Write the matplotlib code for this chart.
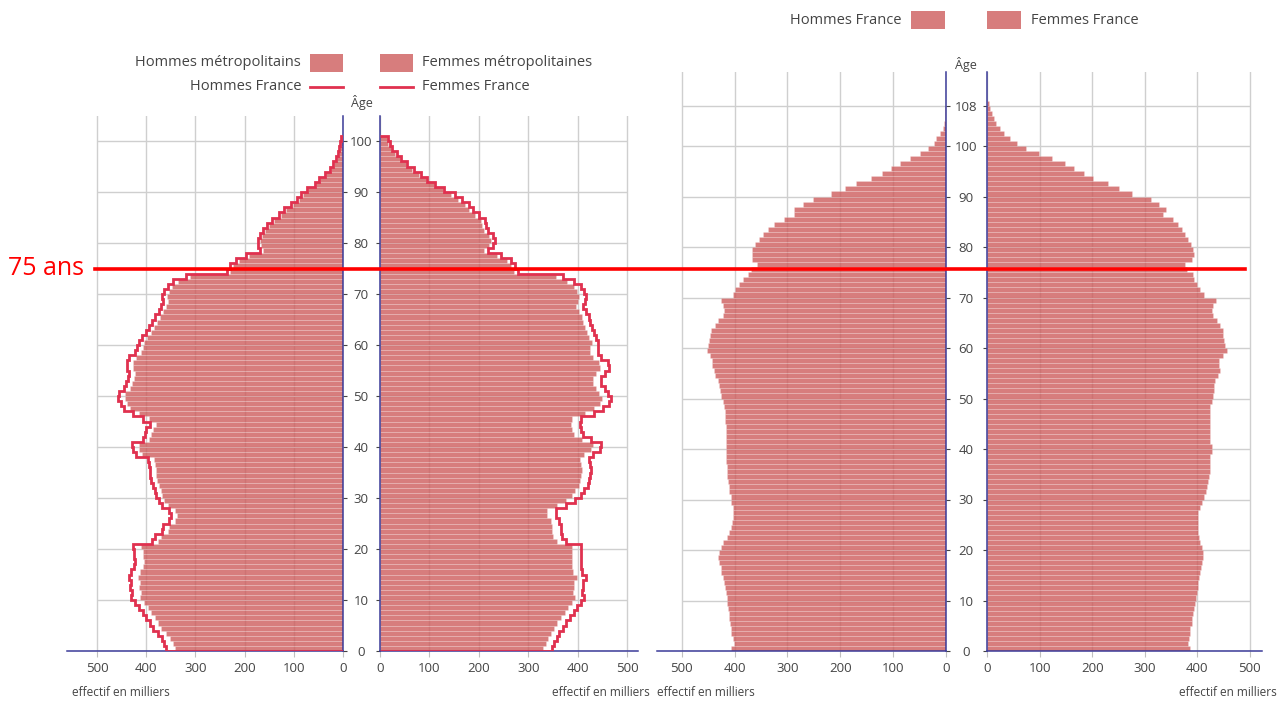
import numpy as np
import matplotlib.pyplot as plt
from matplotlib.lines import Line2D
from matplotlib.patches import Rectangle

plt.rcParams['font.family'] = ['Open Sans', 'DejaVu Sans']

# ---- data (effectifs en milliers, par âge) ----
ages_left = np.arange(0, 101)
ages_right = np.arange(0, 109)

hommes_france_g = [359, 363, 368, 377, 386, 393, 400, 407, 414, 422,
                   430, 428, 432, 430, 434, 430, 425, 422, 425, 425,
                   426, 389, 382, 368, 365, 354, 349, 354, 368, 375,
                   380, 382, 386, 390, 392, 393, 395, 397, 421, 427,
                   428, 407, 403, 400, 393, 407, 427, 446, 452, 457,
                   456, 446, 442, 437, 435, 440, 440, 434, 423, 419,
                   414, 408, 400, 394, 388, 382, 375, 370, 365, 368,
                   363, 356, 345, 319, 236, 230, 217, 198, 168, 173,
                   173, 168, 163, 154, 145, 130, 120, 106, 94, 85,
                   73, 57, 48, 37, 27, 20, 14, 11, 8, 6,
                   4]
hommes_metro = [342, 346, 351, 360, 369, 376, 383, 390, 397, 405,
                412, 410, 414, 412, 416, 412, 407, 404, 407, 407,
                410, 377, 370, 356, 353, 342, 337, 342, 356, 363,
                368, 370, 374, 378, 380, 381, 383, 385, 408, 414,
                415, 394, 390, 387, 380, 394, 414, 433, 439, 444,
                443, 433, 429, 424, 422, 427, 427, 421, 411, 407,
                404, 398, 390, 384, 378, 372, 365, 360, 355, 358,
                354, 347, 336, 310, 230, 224, 211, 192, 162, 167,
                169, 164, 159, 150, 141, 126, 116, 102, 90, 81,
                71, 55, 46, 35, 25, 18, 12, 9, 6, 4,
                3]
femmes_france_g = [348, 353, 358, 363, 370, 377, 385, 392, 399, 406,
                   413, 409, 411, 411, 416, 409, 407, 407, 406, 406,
                   406, 376, 369, 367, 367, 363, 356, 356, 377, 395,
                   406, 413, 420, 423, 425, 427, 425, 423, 430, 445,
                   448, 427, 411, 407, 404, 407, 432, 451, 463, 468,
                   462, 455, 448, 448, 455, 463, 461, 448, 442, 442,
                   442, 437, 432, 429, 425, 422, 417, 411, 415, 417,
                   413, 406, 392, 370, 279, 273, 265, 244, 218, 228,
                   233, 228, 219, 215, 212, 201, 189, 180, 166, 152,
                   130, 112, 96, 82, 68, 55, 43, 34, 25, 20,
                   17]
femmes_metro = [330, 335, 340, 345, 352, 359, 367, 374, 381, 388,
                395, 391, 393, 393, 398, 391, 389, 389, 388, 388,
                388, 358, 351, 349, 349, 345, 338, 338, 359, 377,
                388, 395, 402, 405, 407, 409, 407, 405, 412, 427,
                430, 409, 393, 389, 386, 389, 414, 433, 445, 450,
                444, 437, 430, 430, 437, 445, 443, 430, 424, 424,
                428, 423, 418, 415, 411, 408, 403, 397, 401, 403,
                399, 392, 378, 356, 271, 265, 257, 236, 210, 220,
                225, 220, 211, 207, 204, 193, 181, 172, 158, 144,
                127, 109, 93, 79, 65, 52, 40, 31, 22, 17,
                14]

hommes_france_d = [406, 401, 404, 406, 407, 408, 410, 411, 413, 414,
                   415, 417, 419, 421, 422, 425, 426, 429, 432, 429,
                   426, 422, 415, 411, 407, 405, 404, 403, 404, 406,
                   407, 410, 411, 413, 414, 415, 415, 416, 416, 416,
                   417, 417, 417, 417, 417, 418, 418, 419, 421, 423,
                   425, 427, 430, 432, 437, 440, 442, 442, 446, 453,
                   451, 449, 446, 444, 437, 432, 423, 420, 423, 425,
                   403, 400, 392, 384, 375, 370, 358, 368, 368, 368,
                   361, 354, 346, 337, 326, 307, 287, 287, 270, 252,
                   217, 192, 170, 142, 122, 104, 87, 68, 49, 34,
                   23, 18, 11, 6, 3, 2, 1, 1, 0.5]
femmes_france_d = [386, 383, 385, 386, 387, 389, 390, 392, 393, 395,
                   397, 399, 401, 402, 404, 406, 407, 409, 411, 411,
                   409, 406, 403, 401, 401, 401, 401, 402, 406, 409,
                   413, 416, 418, 421, 423, 424, 425, 425, 425, 427,
                   427, 425, 425, 424, 424, 424, 425, 425, 425, 427,
                   429, 432, 432, 434, 439, 444, 441, 442, 448, 456,
                   453, 451, 448, 449, 444, 437, 430, 428, 430, 435,
                   413, 406, 399, 394, 392, 381, 376, 390, 393, 392,
                   388, 383, 376, 370, 363, 353, 335, 341, 328, 311,
                   275, 251, 230, 201, 184, 166, 149, 124, 99, 75,
                   57, 43, 32, 24, 18, 13, 9, 5, 3]

x_ticks = [0, 100, 200, 300, 400, 500]
yticks_left = list(range(0, 101, 10))
yticks_right = list(range(0, 101, 10)) + [108]

# ---- style ----
W, H = 1284, 704
bar_face = (205 / 255, 92 / 255, 92 / 255, 0.8)
line_col = '#e0314f'
axis_col = '#3b3b98'
grid_col = '#cfcfcf'
text_col = '#444444'

fig = plt.figure(figsize=(W / 100, H / 100), dpi=100)


def px_box(l, r, t, b):
    return [l / W, 1 - b / H, (r - l) / W, (b - t) / H]


def fx(x):
    return x / W


def fy(y):
    return 1 - y / H


def setup(ax, male, xmax, ytop, yticks, pad):
    ax.set_ylim(0, ytop)
    if male:
        ax.set_xlim(xmax, 0)
    else:
        ax.set_xlim(0, xmax)
    ax.set_xticks(x_ticks)
    ax.grid(axis='x', color=grid_col, lw=1)
    ax.set_axisbelow(True)
    ax.hlines(yticks, 0, 500, color=grid_col, lw=1, zorder=0)
    ax.set_yticks(yticks)
    for s in ax.spines.values():
        s.set_visible(False)
    ax.spines['bottom'].set_visible(True)
    ax.spines['bottom'].set_color(axis_col)
    ax.spines['bottom'].set_linewidth(1.1)
    side = 'right' if male else 'left'
    ax.spines[side].set_visible(True)
    ax.spines[side].set_color(axis_col)
    ax.spines[side].set_linewidth(1.1)
    ax.tick_params(axis='x', length=4, color='#c0c0c0', labelsize=9.5,
                   labelcolor=text_col, pad=4)
    if male:
        ax.tick_params(axis='y', left=False, labelleft=False, right=True,
                       labelright=True, length=3, color=text_col, pad=pad,
                       labelsize=9.5, labelcolor=text_col)
        for t in ax.get_yticklabels():
            t.set_horizontalalignment('center')
    else:
        ax.tick_params(axis='y', left=True, labelleft=False, length=3,
                       color=text_col)


def bars(ax, ages, vals):
    ax.barh(ages, vals, height=1, align='edge', facecolor=bar_face,
            edgecolor=(1, 1, 1, 0.3), linewidth=0.4, zorder=1)


# ---- left pyramid: métropole + France outline ----
ytop_l = (651 - 116) / 5.1
ax_lm = fig.add_axes(px_box(67, 343, 116, 651))
ax_lf = fig.add_axes(px_box(380, 638, 116, 651))
setup(ax_lm, True, 561, ytop_l, yticks_left, 10)
setup(ax_lf, False, 522, ytop_l, yticks_left, 10)
bars(ax_lm, ages_left, hommes_metro)
bars(ax_lf, ages_left, femmes_metro)
edges_l = np.arange(0, 102)
ax_lm.stairs(hommes_france_g, edges_l, orientation='horizontal', baseline=0,
             color=line_col, lw=2, zorder=3)
ax_lf.stairs(femmes_france_g, edges_l, orientation='horizontal', baseline=0,
             color=line_col, lw=2, zorder=3)

# ---- right pyramid: France ----
ytop_r = (651 - 72) / 5.05
ax_rm = fig.add_axes(px_box(657, 946, 72, 651))
ax_rf = fig.add_axes(px_box(987, 1262, 72, 651))
setup(ax_rm, True, 547, ytop_r, yticks_right, 11.4)
setup(ax_rf, False, 523, ytop_r, yticks_right, 11.4)
bars(ax_rm, ages_right, hommes_france_d)
bars(ax_rf, ages_right, femmes_france_d)

# ---- axis titles ----
fs_small = 8.5
fig.text(fx(72), fy(692), 'effectif en milliers', ha='left', va='center',
         fontsize=fs_small, color=text_col)
fig.text(fx(650), fy(692), 'effectif en milliers', ha='right', va='center',
         fontsize=fs_small, color=text_col)
fig.text(fx(657), fy(692), 'effectif en milliers', ha='left', va='center',
         fontsize=fs_small, color=text_col)
fig.text(fx(1277), fy(692), 'effectif en milliers', ha='right', va='center',
         fontsize=fs_small, color=text_col)
fig.text(fx(362), fy(102), 'Âge', ha='center', va='center', fontsize=9,
         color=text_col)
fig.text(fx(966), fy(64), 'Âge', ha='center', va='center', fontsize=9,
         color=text_col)

# ---- legends ----
fs_leg = 10.5


def leg_box(x0, x1, yc):
    fig.patches.append(Rectangle((fx(x0), fy(yc + 9)), (x1 - x0) / W, 18 / H,
                                 transform=fig.transFigure, facecolor=bar_face,
                                 edgecolor='none'))


def leg_line(x0, x1, yc):
    fig.add_artist(Line2D([fx(x0), fx(x1)], [fy(yc), fy(yc)], color=line_col,
                          lw=2, transform=fig.transFigure))


fig.text(fx(301), fy(63), 'Hommes métropolitains', ha='right', va='center',
         fontsize=fs_leg, color=text_col)
leg_box(310, 343, 63)
leg_box(380, 413, 63)
fig.text(fx(422), fy(63), 'Femmes métropolitaines', ha='left', va='center',
         fontsize=fs_leg, color=text_col)
fig.text(fx(301), fy(87), 'Hommes France', ha='right', va='center',
         fontsize=fs_leg, color=text_col)
leg_line(310, 343, 87)
leg_line(380, 413, 87)
fig.text(fx(422), fy(87), 'Femmes France', ha='left', va='center',
         fontsize=fs_leg, color=text_col)

fig.text(fx(901), fy(20), 'Hommes France', ha='right', va='center',
         fontsize=fs_leg, color=text_col)
leg_box(911, 945, 20)
leg_box(987, 1021, 20)
fig.text(fx(1031), fy(20), 'Femmes France', ha='left', va='center',
         fontsize=fs_leg, color=text_col)

# ---- 75 ans marker ----
y75 = ax_lm.transData.transform((0, 75))[1] / (fig.get_figheight() * fig.dpi)
fig.add_artist(Line2D([fx(95), fx(1245)], [y75, y75], color='red', lw=2.6,
                      transform=fig.transFigure, zorder=10))
fig.text(fx(8), y75, '75 ans', ha='left', va='center', fontsize=18,
         color='red')

fig.savefig('out.png', dpi=100)
